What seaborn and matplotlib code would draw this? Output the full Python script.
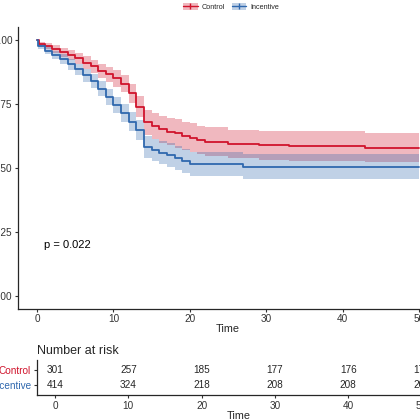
import numpy as np
import pandas as pd
import matplotlib
matplotlib.use("Agg")
import matplotlib.pyplot as plt
from matplotlib.patches import Patch
from matplotlib.lines import Line2D
import seaborn as sns

# ---------------- data ----------------
groups = ["Control", "Incentive"]

ctrl_time = [0, 0.2, 1, 2, 3, 4, 5, 6, 7, 8, 9, 10, 11, 12, 13, 14, 15, 16, 17,
             18, 19, 20, 21, 22, 25, 29, 33, 43, 50]
ctrl_surv = [1.0, 0.985, 0.977, 0.965, 0.952, 0.94, 0.928, 0.912, 0.897, 0.88,
             0.866, 0.85, 0.83, 0.792, 0.74, 0.678, 0.664, 0.651, 0.642, 0.635,
             0.626, 0.618, 0.609, 0.603, 0.594, 0.588, 0.586, 0.58, 0.58]
ctrl_lower = [1.0, 0.977, 0.965, 0.950, 0.934, 0.920, 0.906, 0.888, 0.871, 0.852,
              0.836, 0.818, 0.796, 0.754, 0.698, 0.628, 0.612, 0.598, 0.588, 0.580,
              0.571, 0.562, 0.553, 0.547, 0.538, 0.531, 0.529, 0.523, 0.523]
ctrl_upper = [1.0, 0.993, 0.989, 0.980, 0.970, 0.960, 0.950, 0.936, 0.923, 0.908,
              0.896, 0.882, 0.864, 0.830, 0.782, 0.728, 0.716, 0.704, 0.696, 0.690,
              0.681, 0.674, 0.665, 0.659, 0.650, 0.645, 0.643, 0.637, 0.637]

inc_time = [0, 0.1, 1, 2, 3, 4, 5, 6, 7, 8, 9, 10, 11, 12, 13, 14, 15, 16, 17,
            18, 19, 20, 27, 50]
inc_surv = [1.0, 0.975, 0.958, 0.942, 0.925, 0.905, 0.885, 0.862, 0.84, 0.81,
            0.779, 0.746, 0.714, 0.681, 0.648, 0.581, 0.57, 0.56, 0.551, 0.538,
            0.529, 0.516, 0.505, 0.505]
inc_lower = [1.0, 0.965, 0.945, 0.926, 0.906, 0.884, 0.862, 0.837, 0.813, 0.781,
             0.748, 0.713, 0.679, 0.644, 0.609, 0.538, 0.526, 0.515, 0.505, 0.492,
             0.482, 0.469, 0.457, 0.457]
inc_upper = [1.0, 0.985, 0.971, 0.958, 0.944, 0.926, 0.908, 0.887, 0.867, 0.839,
             0.810, 0.779, 0.749, 0.718, 0.687, 0.624, 0.614, 0.605, 0.597, 0.584,
             0.576, 0.563, 0.553, 0.553]

risk_times = [0, 10, 20, 30, 40, 50]
ctrl_risk = [301, 257, 185, 177, 176, 175]
inc_risk = [414, 324, 218, 208, 208, 208]

x_ticks = [0, 10, 20, 30, 40, 50]
y_ticks = [0.00, 0.25, 0.50, 0.75, 1.00]
y_tick_labels = ["0.00", "0.25", "0.50", "0.75", "1.00"]
p_text = "p = 0.022"

colors = {"Control": "#D0142C", "Incentive": "#2F68AE"}

# ---------------- styling ----------------
sns.set_style("ticks")
plt.rcParams["font.family"] = ["Liberation Sans", "DejaVu Sans"]
plt.rcParams["axes.linewidth"] = 0.9
plt.rcParams["xtick.color"] = "#333333"
plt.rcParams["ytick.color"] = "#333333"

W = H = 420
fig = plt.figure(figsize=(4.2, 4.2), dpi=100)

def fr(x0, y0, x1, y1):
    return [x0 / W, 1 - y1 / H, (x1 - x0) / W, (y1 - y0) / H]

# ---------------- main survival plot ----------------
ax = fig.add_axes(fr(18, 27.2, 438, 308.8))

df = pd.concat([
    pd.DataFrame({"time": ctrl_time, "surv": ctrl_surv, "group": "Control"}),
    pd.DataFrame({"time": inc_time, "surv": inc_surv, "group": "Incentive"}),
], ignore_index=True)

ax.fill_between(ctrl_time, ctrl_lower, ctrl_upper, step="post",
                color=colors["Control"], alpha=0.3, linewidth=0)
ax.fill_between(inc_time, inc_lower, inc_upper, step="post",
                color=colors["Incentive"], alpha=0.3, linewidth=0)
sns.lineplot(data=df, x="time", y="surv", hue="group", palette=colors,
             estimator=None, drawstyle="steps-post", linewidth=1.3,
             legend=False, ax=ax, sort=False)

ax.set_xlim(-2.5, 52.5)
ax.set_ylim(-0.05, 1.05)
ax.set_xticks(x_ticks)
ax.set_yticks(y_ticks)
ax.set_yticklabels(y_tick_labels)
ax.tick_params(labelsize=7.2, length=2.5, width=0.8, pad=1.5)
ax.set_xlabel("Time", fontsize=7.8, labelpad=0)
ax.set_ylabel("")
sns.despine(ax=ax)
ax.text(0.9, 0.2, p_text, fontsize=8, ha="left", va="center", color="black")

# legend
handles = []
for g in groups:
    handles.append((Patch(facecolor=colors[g], alpha=0.3, edgecolor="none"),
                    Line2D([], [], color=colors[g], lw=1.0, marker="|",
                           markersize=5, markeredgewidth=1.0)))
fig.legend(handles=handles, labels=groups, loc="center",
           bbox_to_anchor=(231 / W, 1 - 7 / H), ncol=2, frameon=False,
           fontsize=5.2, handlelength=2.0, handleheight=1.2,
           columnspacing=1.0, handletextpad=0.5)

# ---------------- risk table ----------------
axr = fig.add_axes(fr(36.7, 360, 439.8, 395))
axr.set_xlim(-2.5, 52.5)
axr.set_ylim(0.4, 2.6)
for t, c, i in zip(risk_times, ctrl_risk, inc_risk):
    axr.text(t, 2, str(c), ha="center", va="center", fontsize=7.2)
    axr.text(t, 1, str(i), ha="center", va="center", fontsize=7.2)
axr.set_xticks(x_ticks)
axr.set_yticks([2, 1])
axr.set_yticklabels(["Control", "Incentive"])
for lbl, g in zip(axr.get_yticklabels(), groups):
    lbl.set_color(colors[g])
axr.tick_params(labelsize=7.2, length=2.5, width=0.8, pad=1.5)
axr.set_xlabel("Time", fontsize=7.8, labelpad=0)
axr.set_title("Number at risk", loc="left", fontsize=9, pad=4)
sns.despine(ax=axr)

fig.savefig("out.png", dpi=100)
